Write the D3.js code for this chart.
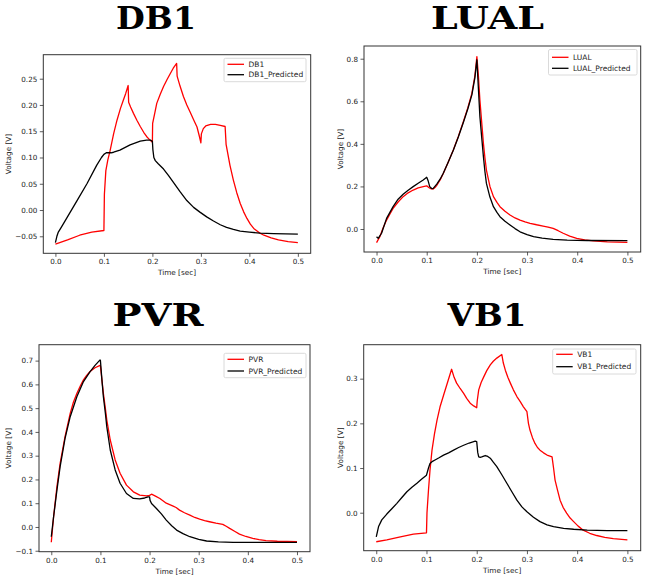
<!DOCTYPE html>
<html>
<head>
<meta charset="utf-8">
<script src="https://cdn.jsdelivr.net/npm/d3@7"></script>
<style>
  html, body { margin: 0; padding: 0; background: #fff; }
  svg { display: block; }
</style>
</head>
<body>
<svg id="chart" width="646" height="580"></svg>
<script>
// ---------------- DATA ----------------
const xTicks = [0, 0.1, 0.2, 0.3, 0.4, 0.5];

// DB1
const db1Time = [0, 0.025, 0.05, 0.075, 0.1, 0.101, 0.104, 0.108, 0.113, 0.12, 0.127, 0.134, 0.14, 0.145, 0.15,
  0.151, 0.155, 0.161, 0.168, 0.175, 0.182, 0.188, 0.194, 0.2,
  0.2005, 0.205, 0.209, 0.216, 0.223, 0.23, 0.237, 0.243, 0.25,
  0.251, 0.257, 0.264, 0.271, 0.278, 0.285, 0.292, 0.297, 0.3,
  0.301, 0.305, 0.31, 0.32, 0.33, 0.34, 0.35,
  0.352, 0.36, 0.367, 0.374, 0.381, 0.388, 0.395, 0.402, 0.409, 0.42, 0.43, 0.445, 0.46, 0.48, 0.5];
const db1Volt = [-0.065, -0.057, -0.048, -0.042, -0.039, 0.03, 0.075, 0.095, 0.114, 0.145, 0.171, 0.193, 0.209, 0.222, 0.237,
  0.205, 0.196, 0.184, 0.171, 0.159, 0.148, 0.14, 0.134, 0.129,
  0.165, 0.185, 0.203, 0.22, 0.235, 0.248, 0.26, 0.27, 0.279,
  0.255, 0.236, 0.216, 0.2, 0.186, 0.172, 0.158, 0.14, 0.128,
  0.145, 0.155, 0.16, 0.163, 0.163, 0.161, 0.159,
  0.125, 0.085, 0.057, 0.033, 0.013, -0.003, -0.016, -0.027, -0.035, -0.043, -0.048, -0.053, -0.057, -0.060, -0.062];
const db1PredTime = [0, 0.003, 0.006, 0.012, 0.023, 0.044, 0.065, 0.085, 0.095, 0.1, 0.105, 0.115, 0.12, 0.133, 0.154, 0.175, 0.188, 0.196, 0.2,
  0.201, 0.203, 0.206, 0.212, 0.223, 0.233, 0.243, 0.257, 0.271, 0.285, 0.298, 0.312, 0.326, 0.34, 0.353, 0.367, 0.381, 0.4, 0.422, 0.45, 0.5];
const db1PredVolt = [-0.062, -0.05, -0.042, -0.033, -0.016, 0.017, 0.05, 0.085, 0.1, 0.106, 0.109, 0.109, 0.11, 0.114, 0.124, 0.131, 0.133, 0.133, 0.131,
  0.115, 0.1, 0.094, 0.088, 0.078, 0.066, 0.053, 0.035, 0.018, 0.005, -0.004, -0.013, -0.021, -0.028, -0.033, -0.037, -0.04, -0.042, -0.044, -0.045, -0.046];
const db1YTicks = [-0.05, 0, 0.05, 0.1, 0.15, 0.2, 0.25];

// LUAL
const lualTime = [0, 0.0066, 0.013, 0.02, 0.027, 0.033, 0.043, 0.053, 0.063, 0.073, 0.083, 0.093, 0.1, 0.104, 0.108, 0.113, 0.117, 0.12,
  0.127, 0.133, 0.143, 0.153, 0.163, 0.173, 0.182, 0.19, 0.196, 0.2, 0.203, 0.206, 0.21, 0.213, 0.216, 0.219, 0.226, 0.233, 0.24, 0.246,
  0.256, 0.266, 0.276, 0.286, 0.296, 0.306, 0.319, 0.332, 0.342, 0.352, 0.362, 0.372, 0.385, 0.399, 0.415, 0.432, 0.46, 0.5];
const lualVolt = [-0.064, -0.036, 0.005, 0.042, 0.072, 0.097, 0.127, 0.152, 0.17, 0.183, 0.193, 0.199, 0.203, 0.195, 0.19, 0.188, 0.196, 0.205,
  0.232, 0.261, 0.315, 0.371, 0.435, 0.504, 0.57, 0.637, 0.72, 0.81, 0.72, 0.606, 0.49, 0.403, 0.335, 0.277, 0.2, 0.152, 0.125, 0.105,
  0.083, 0.066, 0.052, 0.042, 0.034, 0.027, 0.02, 0.014, 0.009, 0.003, -0.008, -0.02, -0.033, -0.044, -0.051, -0.056, -0.06, -0.063];
const lualPredTime = [0, 0.0033, 0.01, 0.02, 0.033, 0.043, 0.053, 0.063, 0.073, 0.083, 0.093, 0.1, 0.103, 0.106, 0.11, 0.113, 0.12,
  0.127, 0.133, 0.143, 0.153, 0.163, 0.173, 0.182, 0.19, 0.196, 0.2, 0.203, 0.206, 0.21, 0.213, 0.216, 0.219, 0.226, 0.233, 0.24, 0.246,
  0.256, 0.266, 0.276, 0.286, 0.3, 0.313, 0.33, 0.352, 0.38, 0.42, 0.5];
const lualPredVolt = [-0.036, -0.044, -0.02, 0.05, 0.105, 0.14, 0.163, 0.182, 0.199, 0.215, 0.23, 0.243, 0.225, 0.199, 0.19, 0.191, 0.211,
  0.235, 0.262, 0.315, 0.37, 0.432, 0.5, 0.565, 0.63, 0.71, 0.795, 0.66, 0.528, 0.42, 0.34, 0.27, 0.214, 0.15, 0.105, 0.078, 0.058,
  0.036, 0.019, 0.002, -0.013, -0.026, -0.036, -0.043, -0.049, -0.052, -0.054, -0.055];
const lualYTicks = [0, 0.2, 0.4, 0.6, 0.8];

// PVR
const pvrTime = [0, 0.0047, 0.0115, 0.018, 0.028, 0.0385, 0.045, 0.052, 0.059, 0.0655, 0.072, 0.079, 0.089, 0.0993,
  0.1, 0.103, 0.106, 0.11, 0.113, 0.12, 0.13, 0.14, 0.153, 0.167, 0.18, 0.194, 0.2, 0.204, 0.212, 0.221, 0.234, 0.248, 0.254,
  0.261, 0.271, 0.282, 0.292, 0.302, 0.312, 0.322, 0.335, 0.349, 0.356, 0.363, 0.373, 0.383, 0.396, 0.41, 0.423, 0.437, 0.46, 0.5];
const pvrVolt = [-0.064, 0.043, 0.17, 0.268, 0.38, 0.478, 0.525, 0.562, 0.593, 0.619, 0.638, 0.654, 0.67, 0.68,
  0.678, 0.62, 0.562, 0.5, 0.45, 0.366, 0.282, 0.226, 0.176, 0.148, 0.134, 0.131, 0.133, 0.138, 0.13, 0.12, 0.1, 0.088, 0.082,
  0.071, 0.06, 0.05, 0.04, 0.033, 0.027, 0.022, 0.016, 0.011, 0.003, -0.006, -0.018, -0.03, -0.04, -0.048, -0.053, -0.057, -0.06, -0.062];
const pvrPredTime = [0, 0.0047, 0.0115, 0.018, 0.028, 0.0385, 0.052, 0.0655, 0.079, 0.089, 0.0993,
  0.1, 0.103, 0.106, 0.11, 0.113, 0.12, 0.13, 0.14, 0.153, 0.167, 0.18, 0.19, 0.197, 0.2,
  0.201, 0.204, 0.214, 0.224, 0.234, 0.245, 0.255, 0.268, 0.282, 0.3, 0.316, 0.34, 0.37, 0.5];
const pvrPredVolt = [-0.041, 0.043, 0.155, 0.254, 0.373, 0.464, 0.548, 0.612, 0.654, 0.68, 0.703,
  0.7, 0.62, 0.548, 0.48, 0.421, 0.324, 0.24, 0.184, 0.141, 0.12, 0.118, 0.122, 0.127, 0.127,
  0.112, 0.099, 0.078, 0.055, 0.029, 0.005, -0.013, -0.028, -0.041, -0.052, -0.059, -0.063, -0.065, -0.065];
const pvrYTicks = [-0.1, 0, 0.1, 0.2, 0.3, 0.4, 0.5, 0.6, 0.7];

// VB1
const vb1Time = [0, 0.021, 0.048, 0.074, 0.1, 0.101, 0.104, 0.107, 0.111, 0.116, 0.121, 0.127, 0.134, 0.142, 0.15,
  0.155, 0.16, 0.167, 0.174, 0.18, 0.187, 0.194, 0.2, 0.201, 0.204, 0.209, 0.214, 0.22, 0.227, 0.233, 0.24, 0.25,
  0.253, 0.257, 0.262, 0.267, 0.273, 0.28, 0.287, 0.293, 0.3, 0.303, 0.306, 0.311, 0.316, 0.321, 0.326, 0.333, 0.34, 0.35,
  0.353, 0.356, 0.361, 0.366, 0.372, 0.379, 0.386, 0.393, 0.402, 0.412, 0.425, 0.439, 0.455, 0.472, 0.5];
const vb1Volt = [-0.065, -0.061, -0.054, -0.048, -0.045, 0.0, 0.051, 0.095, 0.14, 0.177, 0.207, 0.237, 0.263, 0.292, 0.321,
  0.303, 0.29, 0.278, 0.267, 0.256, 0.245, 0.239, 0.235, 0.25, 0.275, 0.292, 0.304, 0.318, 0.331, 0.339, 0.346, 0.354,
  0.335, 0.319, 0.303, 0.29, 0.275, 0.26, 0.248, 0.237, 0.226, 0.2, 0.185, 0.168, 0.155, 0.146, 0.14, 0.134, 0.129, 0.125,
  0.1, 0.073, 0.05, 0.028, 0.012, -0.001, -0.012, -0.02, -0.03, -0.039, -0.046, -0.051, -0.055, -0.058, -0.061];
const vb1PredTime = [0, 0.0046, 0.011, 0.021, 0.031, 0.041, 0.051, 0.061, 0.071, 0.081, 0.09, 0.1, 0.104, 0.107, 0.112, 0.117,
  0.125, 0.134, 0.144, 0.154, 0.164, 0.174, 0.185, 0.197, 0.2, 0.202, 0.204, 0.207, 0.21, 0.217, 0.222, 0.227, 0.233, 0.24,
  0.25, 0.26, 0.27, 0.28, 0.29, 0.3, 0.313, 0.326, 0.34, 0.353, 0.373, 0.393, 0.42, 0.46, 0.5];
const vb1PredVolt = [-0.054, -0.031, -0.016, -0.003, 0.009, 0.021, 0.034, 0.047, 0.057, 0.066, 0.075, 0.084, 0.1, 0.11, 0.115, 0.118,
  0.123, 0.129, 0.134, 0.14, 0.146, 0.151, 0.156, 0.16, 0.159, 0.135, 0.125, 0.124, 0.125, 0.128, 0.126, 0.122, 0.113, 0.103,
  0.085, 0.066, 0.047, 0.028, 0.013, 0.002, -0.01, -0.02, -0.027, -0.031, -0.035, -0.037, -0.039, -0.04, -0.04];
const vb1YTicks = [0, 0.1, 0.2, 0.3];

const panelNames = ["DB1", "LUAL", "PVR", "VB1"];
const seriesLabels = [["DB1", "DB1_Predicted"], ["LUAL", "LUAL_Predicted"], ["PVR", "PVR_Predicted"], ["VB1", "VB1_Predicted"]];
const yDomains = [[-0.0824, 0.2957], [-0.108, 0.8597], [-0.104, 0.767], [-0.085, 0.376]];
const xDomain = [-0.025, 0.5265];
const yTickFormats = [".2f", ".1f", ".1f", ".1f"];

// ---------------- LAYOUT ----------------
const layout = [
  { l: 43.3, r: 310.7, t: 54.7, b: 253.3, title: [156, 29.2, 80], ylab: 8.5,
    leg: { x: 224, y: 58.3, w: 82, h: 23.4, l1: 6, dy: 10.4 } },
  { l: 364, r: 640.7, t: 46, b: 252, title: [487.5, 29.2, 113], ylab: 340.5,
    leg: { x: 548.5, y: 49.5, w: 88.5, h: 25.5, l1: 7.8, dy: 11 } },
  { l: 39, r: 310, t: 344.7, b: 551.7, title: [158, 326, 91], ylab: 8.5,
    leg: { x: 224, y: 353.3, w: 82, h: 24.4, l1: 6, dy: 11.7 } },
  { l: 363.7, r: 640.7, t: 344.7, b: 550.7, title: [487, 326, 79], ylab: 340.5,
    leg: { x: 552.7, y: 349, w: 83.3, h: 25, l1: 5.3, dy: 12.4 } }
];

const seriesData = [
  [[db1Time, db1Volt], [db1PredTime, db1PredVolt]],
  [[lualTime, lualVolt], [lualPredTime, lualPredVolt]],
  [[pvrTime, pvrVolt], [pvrPredTime, pvrPredVolt]],
  [[vb1Time, vb1Volt], [vb1PredTime, vb1PredVolt]]
];
const yTickSets = [db1YTicks, lualYTicks, pvrYTicks, vb1YTicks];
const colors = ["#ff0000", "#000000"];

const svg = d3.select("#chart");
const FONT = "'DejaVu Sans', sans-serif";

panelNames.forEach((name, i) => {
  const L = layout[i];
  const x = d3.scaleLinear().domain(xDomain).range([L.l, L.r]);
  const y = d3.scaleLinear().domain(yDomains[i]).range([L.b, L.t]);
  const g = svg.append("g");

  // title
  g.append("text")
    .attr("x", L.title[0]).attr("y", L.title[1])
    .attr("text-anchor", "middle")
    .attr("font-family", "'DejaVu Serif', serif")
    .attr("font-weight", "bold")
    .attr("font-size", 31)
    .attr("textLength", L.title[2])
    .attr("lengthAdjust", "spacingAndGlyphs")
    .attr("fill", "#000")
    .text(name);

  // lines
  const line = d3.line().x(d => x(d[0])).y(d => y(d[1]));
  seriesData[i].forEach((s, k) => {
    const pts = s[0].map((t, j) => [t, s[1][j]]);
    g.append("path")
      .datum(pts)
      .attr("d", line)
      .attr("fill", "none")
      .attr("stroke", colors[k])
      .attr("stroke-width", 1.3)
      .attr("stroke-linejoin", "round");
  });

  // axes
  const xAxis = d3.axisBottom(x).tickValues(xTicks).tickFormat(d3.format(".1f")).tickSize(3.5).tickPadding(2.5);
  const yAxis = d3.axisLeft(y).tickValues(yTickSets[i]).tickFormat(d3.format(yTickFormats[i])).tickSize(3.5).tickPadding(2.5);
  const gx = g.append("g").attr("transform", `translate(0,${L.b})`).call(xAxis);
  const gy = g.append("g").attr("transform", `translate(${L.l},0)`).call(yAxis);
  [gx, gy].forEach(a => {
    a.select(".domain").remove();
    a.selectAll(".tick line").attr("stroke", "#333").attr("stroke-width", 0.8);
    a.selectAll(".tick text").attr("font-family", FONT).attr("font-size", 7.2).attr("fill", "#222");
  });

  // frame
  g.append("rect")
    .attr("x", L.l).attr("y", L.t)
    .attr("width", L.r - L.l).attr("height", L.b - L.t)
    .attr("fill", "none").attr("stroke", "#333").attr("stroke-width", 1);

  // axis labels
  g.append("text")
    .attr("x", (L.l + L.r) / 2).attr("y", L.b + 22)
    .attr("text-anchor", "middle")
    .attr("font-family", FONT).attr("font-size", 7.3).attr("fill", "#222")
    .text("Time [sec]");
  g.append("text")
    .attr("transform", `translate(${L.ylab},${(L.t + L.b) / 2}) rotate(-90)`)
    .attr("text-anchor", "middle")
    .attr("dominant-baseline", "central")
    .attr("font-family", FONT).attr("font-size", 7.3).attr("fill", "#222")
    .text("Voltage [V]");

  // legend
  const lg = L.leg;
  g.append("rect")
    .attr("x", lg.x).attr("y", lg.y).attr("width", lg.w).attr("height", lg.h)
    .attr("rx", 1.5)
    .attr("fill", "#fff").attr("stroke", "#d0d0d0").attr("stroke-width", 0.8);
  seriesLabels[i].forEach((lab, k) => {
    const yy = lg.y + lg.l1 + k * lg.dy;
    g.append("line")
      .attr("x1", lg.x + 3.5).attr("x2", lg.x + 20)
      .attr("y1", yy).attr("y2", yy)
      .attr("stroke", colors[k]).attr("stroke-width", 1.3);
    g.append("text")
      .attr("x", lg.x + 24.5).attr("y", yy)
      .attr("dominant-baseline", "central")
      .attr("font-family", FONT).attr("font-size", 7.5).attr("fill", "#222")
      .text(lab);
  });
});
</script>
</body>
</html>
